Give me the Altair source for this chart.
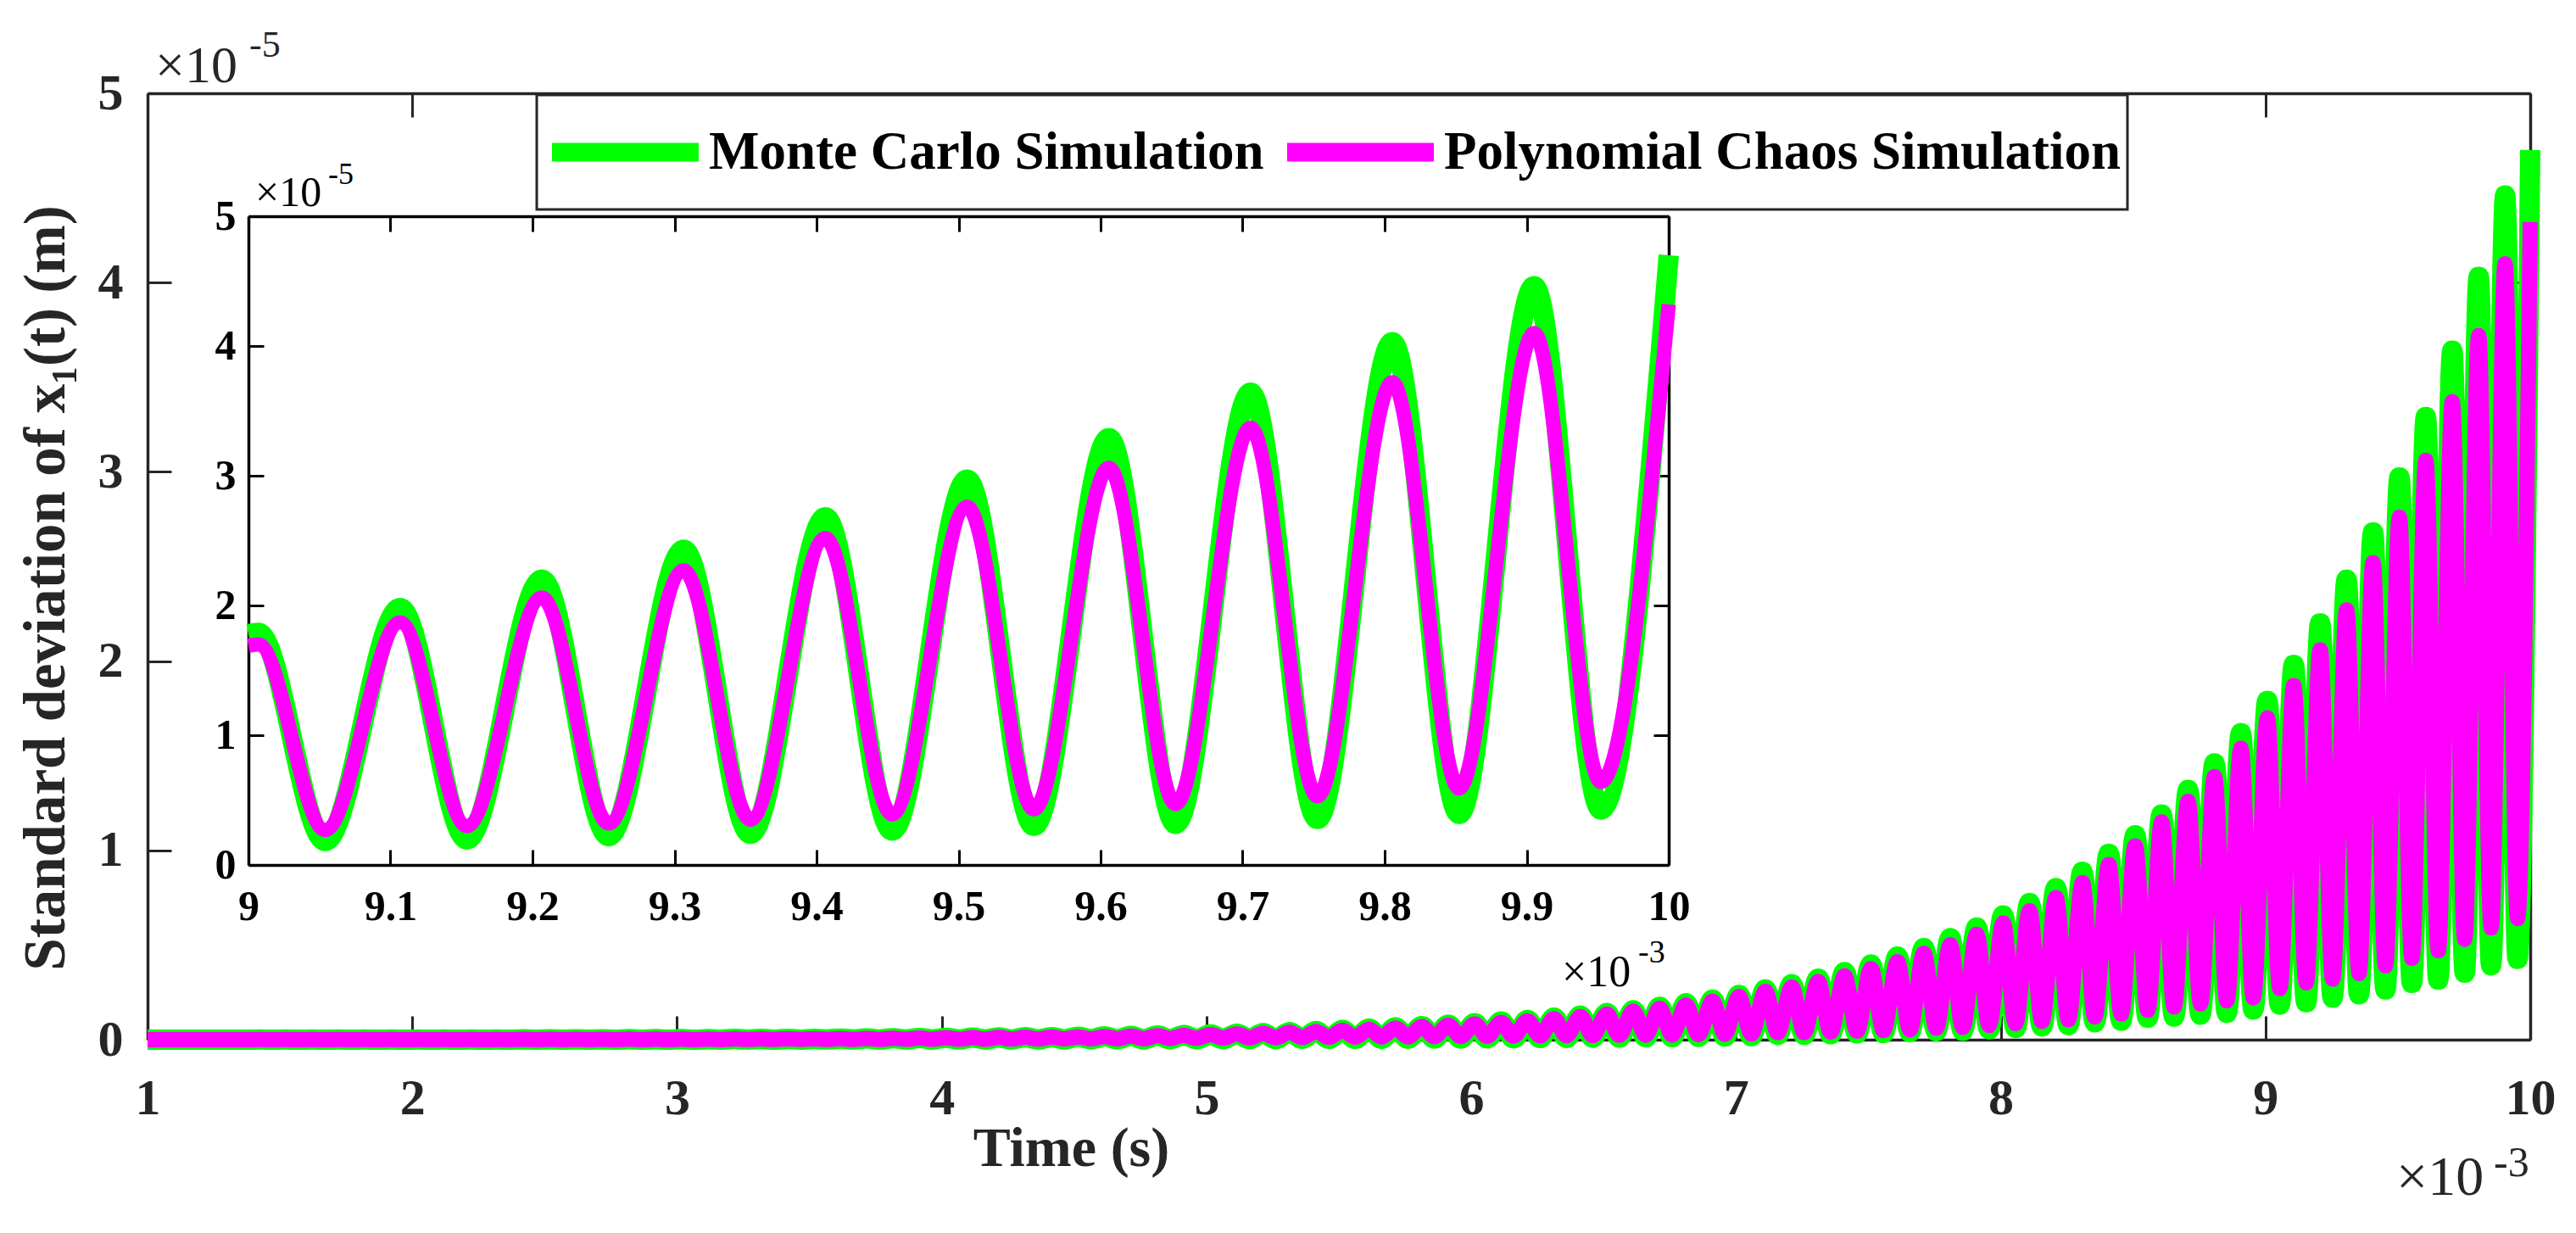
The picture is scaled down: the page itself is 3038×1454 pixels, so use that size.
import altair as alt
import pandas as pd

# ---------------- data ----------------
# time axis in units of 1e-3 s, std in units of 1e-5 m
FIRST_PEAK_TIME = 1.023
PERIOD = 0.0998
TROUGH_LAG = 0.047
START_TIME = 1.0
END_TIME = 10.0
INSET_START_TIME = 9.0

SERIES = ["Monte Carlo Simulation", "Polynomial Chaos Simulation"]

MC_PEAKS = [
    0.000, 0.000, 0.000, 0.000, 0.001, 0.001, 0.001, 0.001, 0.001, 0.001,
    0.001, 0.001, 0.001, 0.001, 0.002, 0.002, 0.002, 0.002, 0.003, 0.003,
    0.003, 0.003, 0.004, 0.004, 0.005, 0.005, 0.006, 0.007, 0.008, 0.009,
    0.010, 0.011, 0.012, 0.013, 0.014, 0.016, 0.018, 0.020, 0.022, 0.025,
    0.028, 0.031, 0.035, 0.040, 0.046, 0.051, 0.058, 0.065, 0.072, 0.080,
    0.087, 0.096, 0.104, 0.116, 0.128, 0.141, 0.156, 0.174, 0.193, 0.212,
    0.236, 0.266, 0.293, 0.323, 0.357, 0.398, 0.439, 0.484, 0.536, 0.593,
    0.656, 0.723, 0.801, 0.887, 0.982, 1.080, 1.190, 1.320, 1.460, 1.620,
    1.790, 1.980, 2.200, 2.430, 2.680, 2.970, 3.290, 3.640, 4.030, 4.460,
]
MC_TROUGHS = [
    0.000, 0.000, 0.000, 0.000, 0.000, 0.000, 0.000, 0.000, 0.000, 0.000,
    0.000, 0.000, 0.000, 0.000, 0.000, 0.000, 0.000, 0.000, 0.000, 0.000,
    0.000, 0.000, 0.000, 0.000, 0.000, 0.001, 0.001, 0.001, 0.001, 0.001,
    0.001, 0.001, 0.001, 0.001, 0.001, 0.002, 0.002, 0.002, 0.002, 0.002,
    0.003, 0.003, 0.003, 0.004, 0.004, 0.004, 0.005, 0.005, 0.006, 0.006,
    0.007, 0.007, 0.008, 0.009, 0.010, 0.011, 0.012, 0.013, 0.015, 0.016,
    0.018, 0.025, 0.025, 0.028, 0.032, 0.035, 0.040, 0.045, 0.047, 0.055,
    0.062, 0.070, 0.077, 0.092, 0.100, 0.116, 0.122, 0.132, 0.142, 0.159,
    0.185, 0.197, 0.222, 0.240, 0.265, 0.300, 0.317, 0.354, 0.393, 0.427,
]
PC_PEAKS = [
    0.000, 0.000, 0.000, 0.000, 0.001, 0.001, 0.001, 0.001, 0.001, 0.001,
    0.001, 0.001, 0.001, 0.001, 0.002, 0.002, 0.002, 0.002, 0.003, 0.003,
    0.003, 0.003, 0.004, 0.004, 0.005, 0.005, 0.006, 0.007, 0.008, 0.009,
    0.010, 0.011, 0.012, 0.013, 0.014, 0.015, 0.017, 0.019, 0.021, 0.024,
    0.027, 0.030, 0.034, 0.039, 0.043, 0.049, 0.055, 0.062, 0.069, 0.076,
    0.083, 0.091, 0.100, 0.111, 0.122, 0.135, 0.150, 0.166, 0.184, 0.204,
    0.228, 0.255, 0.278, 0.307, 0.337, 0.375, 0.412, 0.457, 0.502, 0.557,
    0.617, 0.681, 0.751, 0.830, 0.925, 1.024, 1.150, 1.260, 1.390, 1.540,
    1.700, 1.870, 2.060, 2.270, 2.520, 2.760, 3.060, 3.370, 3.720, 4.100,
]
PC_TROUGHS = [
    0.000, 0.000, 0.000, 0.000, 0.000, 0.000, 0.000, 0.000, 0.000, 0.000,
    0.000, 0.000, 0.000, 0.000, 0.000, 0.000, 0.000, 0.000, 0.000, 0.000,
    0.000, 0.000, 0.001, 0.001, 0.001, 0.001, 0.001, 0.001, 0.002, 0.002,
    0.002, 0.002, 0.003, 0.003, 0.004, 0.004, 0.005, 0.005, 0.006, 0.007,
    0.008, 0.009, 0.010, 0.011, 0.012, 0.013, 0.014, 0.015, 0.016, 0.017,
    0.018, 0.019, 0.020, 0.021, 0.022, 0.023, 0.024, 0.025, 0.026, 0.028,
    0.030, 0.037, 0.037, 0.040, 0.045, 0.048, 0.052, 0.060, 0.064, 0.075,
    0.085, 0.097, 0.105, 0.120, 0.135, 0.155, 0.172, 0.188, 0.205, 0.221,
    0.270, 0.300, 0.320, 0.350, 0.390, 0.430, 0.470, 0.530, 0.590, 0.640,
]
MC_START, PC_START = 0.0, 0.0
MC_END, PC_END = 4.70, 4.32
MC_INSET_START, PC_INSET_START = 1.78, 1.69

MAIN_X_TICKS = [1, 2, 3, 4, 5, 6, 7, 8, 9, 10]
Y_TICKS = [0, 1, 2, 3, 4, 5]
INSET_X_TICKS = [9.0, 9.1, 9.2, 9.3, 9.4, 9.5, 9.6, 9.7, 9.8, 9.9, 10.0]


def build(peaks, troughs, start, end, name):
    rows = [(START_TIME, start)]
    for i, (p, tr) in enumerate(zip(peaks, troughs)):
        tp = FIRST_PEAK_TIME + i * PERIOD
        rows.append((tp, p))
        rows.append((tp + TROUGH_LAG, tr))
    rows.append((END_TIME, end))
    df = pd.DataFrame(rows, columns=["t", "v"])
    df["series"] = name
    return df


mc = build(MC_PEAKS, MC_TROUGHS, MC_START, MC_END, SERIES[0])
pc = build(PC_PEAKS, PC_TROUGHS, PC_START, PC_END, SERIES[1])
main_df = pd.concat([mc, pc], ignore_index=True)

mc_in = pd.concat([pd.DataFrame({"t": [INSET_START_TIME], "v": [MC_INSET_START]}),
                   mc[mc.t > INSET_START_TIME][["t", "v"]]], ignore_index=True)
pc_in = pd.concat([pd.DataFrame({"t": [INSET_START_TIME], "v": [PC_INSET_START]}),
                   pc[pc.t > INSET_START_TIME][["t", "v"]]], ignore_index=True)

main_corners = pd.DataFrame({"t": [1, 10], "v": [0, 5]})
inset_corners = pd.DataFrame({"t": [9, 10], "v": [0, 5]})

# ---------------- layout / style ----------------
W, H = 2810, 1116
IX0, IX1 = 119, 1794     # inset x range inside plot area
IY0, IY1 = 910, 145      # inset y range (bottom, top)
FONT = "Liberation Serif"
AX = "#262626"
GREEN = "#00ff00"
MAGENTA = "#ff00ff"

xm = alt.Scale(domain=[1, 10], nice=False, zero=False)
ym = alt.Scale(domain=[0, 5], nice=False, zero=False)
xi = alt.Scale(domain=[9, 10], range=[IX0, IX1], nice=False, zero=False)
yi = alt.Scale(domain=[0, 5], range=[IY0, IY1], nice=False, zero=False)


def tick_axis(orient, offset, values, size, color, domain):
    return alt.Axis(orient=orient, offset=offset, values=values, ticks=True,
                    tickSize=size, tickWidth=3, tickColor=color, labels=False,
                    domain=domain, domainColor=color, domainWidth=3.5,
                    grid=False, title=None)


main_x_axis = alt.Axis(
    orient="bottom", values=MAIN_X_TICKS, format="d", ticks=False, tickSize=0,
    domain=True, domainColor=AX, domainWidth=3.5, grid=False,
    labelFont=FONT, labelFontSize=60, labelFontWeight="bold", labelColor=AX,
    labelPadding=40, labelBaseline="top", labelFlush=False, labelOverlap=False,
    title="Time (s)", titleFont=FONT, titleFontSize=66, titleFontWeight="bold",
    titleColor=AX, titleX=1089, titleY=148, titleAlign="center",
    titleBaseline="alphabetic")
main_y_axis = alt.Axis(
    orient="left", values=Y_TICKS, format="d", ticks=False, tickSize=0,
    domain=True, domainColor=AX, domainWidth=3.5, grid=False,
    labelFont=FONT, labelFontSize=60, labelFontWeight="bold", labelColor=AX,
    labelPadding=29, labelFlush=False, labelOverlap=False,
    title="Standard deviation of x\u2081(t) (m)", titleFont=FONT, titleFontSize=69,
    titleFontWeight="bold", titleColor=AX, titleAngle=270, titleX=-99, titleY=583,
    titleAlign="center", titleBaseline="alphabetic")

legend = alt.Legend(
    title=None, orient="none", legendX=459, legendY=2, direction="horizontal",
    symbolType="stroke", symbolSize=29929, symbolStrokeWidth=22, clipHeight=121,
    padding=7, columnPadding=16, labelOffset=1, labelFont=FONT,
    labelFontSize=63, labelFontWeight="bold", labelColor="black",
    labelLimit=3000, strokeColor=AX, fillColor="white", cornerRadius=0)


def main_line(name, width):
    return alt.Chart(main_df).transform_filter(alt.datum.series == name).mark_line(
        strokeWidth=width, interpolate="monotone", strokeJoin="round"
    ).encode(
        x=alt.X("t:Q", scale=xm, axis=main_x_axis),
        y=alt.Y("v:Q", scale=ym, axis=main_y_axis),
        color=alt.Color("series:N", scale=alt.Scale(domain=SERIES, range=[GREEN, MAGENTA]),
                        legend=legend),
    )


main_lines = alt.layer(main_line(SERIES[0], 24), main_line(SERIES[1], 18))

main_ticks_a = alt.Chart(main_corners).mark_point(opacity=0).encode(
    x=alt.X("t:Q", scale=xm, axis=tick_axis("top", -H, MAIN_X_TICKS, 28, AX, False)),
    y=alt.Y("v:Q", scale=ym, axis=tick_axis("right", -W, Y_TICKS, 28, AX, False)),
)
main_ticks_b = alt.Chart(main_corners).mark_point(opacity=0).encode(
    x=alt.X("t:Q", scale=xm, axis=tick_axis("bottom", -H, MAIN_X_TICKS, 28, AX, True)),
    y=alt.Y("v:Q", scale=ym, axis=tick_axis("left", -W, Y_TICKS, 28, AX, True)),
)

inset_x_axis = alt.Axis(
    orient="bottom", offset=-(H - IY0), values=INSET_X_TICKS, format=".1~f",
    ticks=False, tickSize=0, domain=True, domainColor="black", domainWidth=3.5,
    grid=False, labelFont=FONT, labelFontSize=50, labelFontWeight="bold",
    labelColor="black", labelPadding=24, labelBaseline="top", labelFlush=False,
    labelOverlap=False, title=None)
inset_y_axis = alt.Axis(
    orient="left", offset=-IX0, values=Y_TICKS, format="d", ticks=False,
    tickSize=0, domain=True, domainColor="black", domainWidth=3.5, grid=False,
    labelFont=FONT, labelFontSize=50, labelFontWeight="bold", labelColor="black",
    labelPadding=15, labelFlush=False, labelOverlap=False, title=None)


def inset_line(df, color, width):
    return alt.Chart(df).mark_line(
        color=color, strokeWidth=width, interpolate="monotone", strokeJoin="round"
    ).encode(
        x=alt.X("t:Q", scale=xi, axis=inset_x_axis),
        y=alt.Y("v:Q", scale=yi, axis=inset_y_axis),
    )


inset_lines = alt.layer(inset_line(mc_in, GREEN, 24), inset_line(pc_in, MAGENTA, 17))

inset_ticks_a = alt.Chart(inset_corners).mark_point(opacity=0).encode(
    x=alt.X("t:Q", scale=xi, axis=tick_axis("top", -IY0, INSET_X_TICKS, 18, "black", False)),
    y=alt.Y("v:Q", scale=yi, axis=tick_axis("right", IX0 - W, Y_TICKS, 18, "black", False)),
)
inset_ticks_b = alt.Chart(inset_corners).mark_point(opacity=0).encode(
    x=alt.X("t:Q", scale=xi, axis=tick_axis("bottom", IY1 - H, INSET_X_TICKS, 18, "black", True)),
    y=alt.Y("v:Q", scale=yi, axis=tick_axis("left", -IX1, Y_TICKS, 18, "black", True)),
)


def note(text, x, y, size, color):
    return alt.Chart(pd.DataFrame({"k": [0]})).mark_text(
        text=text, font=FONT, fontSize=size, align="left", baseline="alphabetic",
        color=color
    ).encode(x=alt.value(x), y=alt.value(y))


notes = [
    note("\u00d710", 9, -13, 62, AX),
    note("-5", 120, -43, 44, AX),
    note("\u00d710", 127, 133, 50, "black"),
    note("-5", 213, 107, 36, "black"),
    note("\u00d710", 1668, 1053, 52, "black"),
    note("-3", 1758, 1025, 38, "black"),
    note("\u00d710", 2652, 1299, 66, AX),
    note("-3", 2767, 1277, 50, AX),
]

chart = alt.layer(
    main_lines, main_ticks_a, main_ticks_b,
    inset_lines, inset_ticks_a, inset_ticks_b, *notes
).resolve_scale(
    x="independent", y="independent"
).properties(
    width=W, height=H,
    padding={"left": 174, "top": 110, "right": 54, "bottom": 228},
    autosize=alt.AutoSizeParams(type="none"),
    background="white",
).configure_view(stroke=None).configure_legend(strokeWidth=3)

chart.save("out.html", embed_options={"renderer": "svg", "actions": False})
